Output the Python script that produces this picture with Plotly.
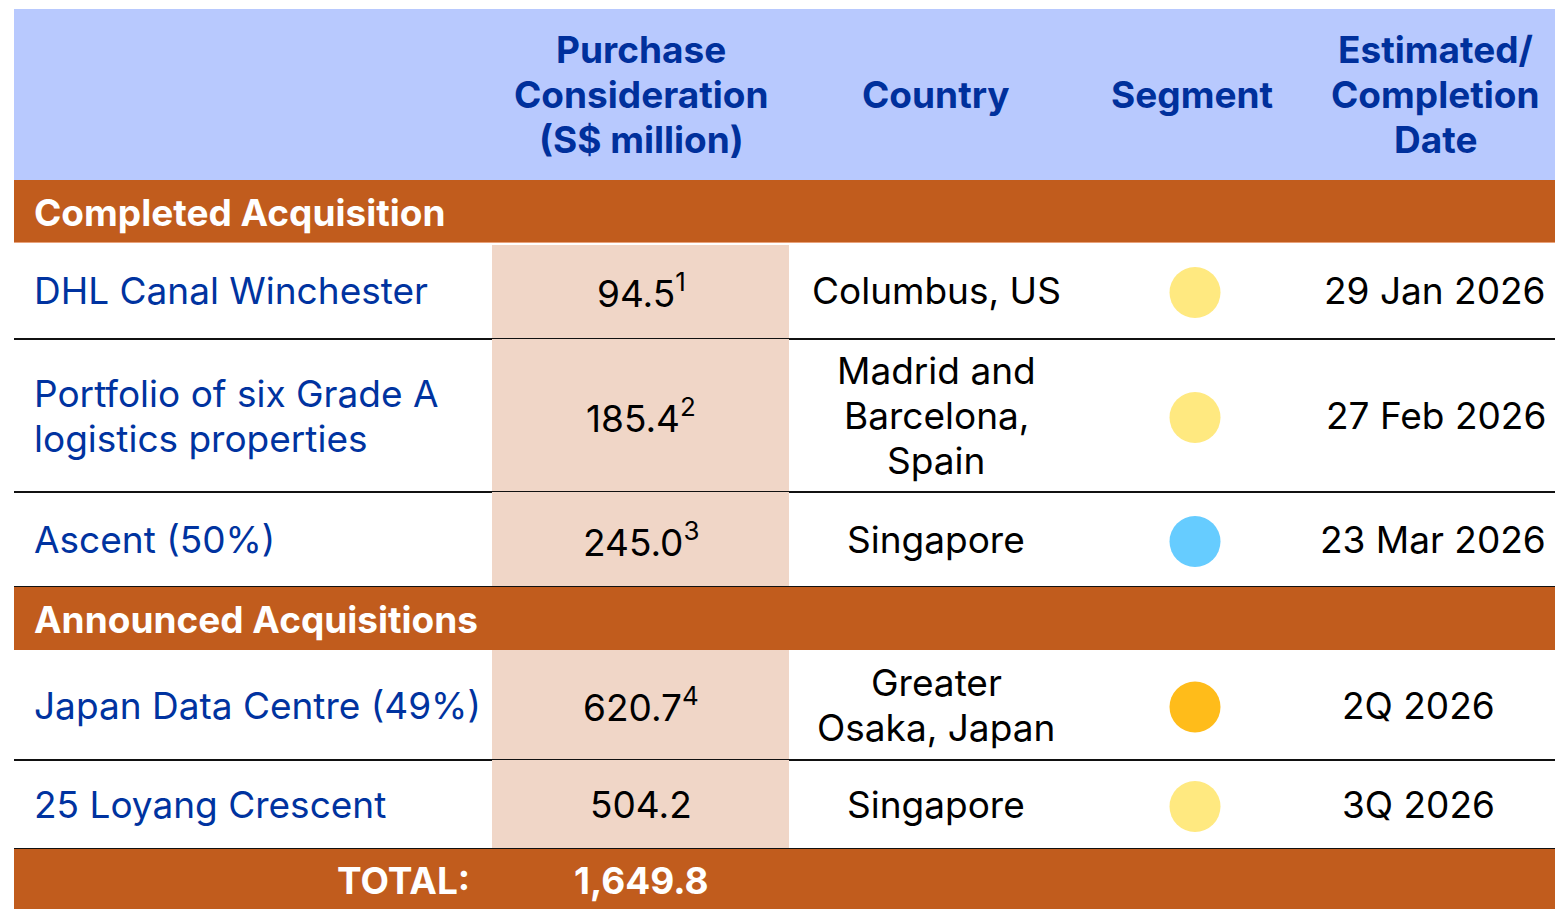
import plotly.graph_objects as go

# ---------------- data ----------------
headers = ["", "Purchase<br>Consideration<br>(S$ million)", "Country", "Segment",
           "Estimated/<br>Completion<br>Date"]
groups = ["Completed Acquisition", "Announced Acquisitions"]
group_index = [0, 0, 0, 1, 1]
names = ["DHL Canal Winchester", "Portfolio of six Grade A<br>logistics properties",
         "Ascent (50%)", "Japan Data Centre (49%)", "25 Loyang Crescent"]
values = [94.5, 185.4, 245.0, 620.7, 504.2]
footnotes = ["1", "2", "3", "4", ""]
countries = ["Columbus, US", "Madrid and<br>Barcelona,<br>Spain", "Singapore",
             "Greater<br>Osaka, Japan", "Singapore"]
segments = ["Logistics", "Logistics", "Business Space", "Data Centre", "Logistics"]
dates = ["29 Jan 2026", "27 Feb 2026", "23 Mar 2026", "2Q 2026", "3Q 2026"]
total_label = "TOTAL:"

# ---------------- styles / layout ----------------
FONT = "Inter"
FS = 37
LH = 45                     # line spacing of wrapped text
W, H = 1555, 909
LEFT, RIGHT = 14, 1555
TOP = 9
HEADER_BG = "#B8C9FE"
HEADER_FG = "#00309C"
BAND = "#C15C1D"
PEACH = "#F0D6C7"
NAME_FG = "#0033A0"
seg_colors = {"Logistics": "#FFE980", "Business Space": "#66CCFF", "Data Centre": "#FFBC1A"}
date_align = ["right", "right", "right", "center", "center"]
header_h, band_h, total_h = 171, 62, 62
row_h = [97, 153, 95, 110, 89]
band_h2 = 63
col_x = {"name": 32, "value": 641, "country": 936, "segment": 1195,
         "date_c": 1418, "date_r": 1548, "head_date": 1435}
peach_x = (492, 789)
dot_dy = 2

fig = go.Figure()
shapes, ann = [], []


def rect(x0, y0, x1, y1, color):
    shapes.append(dict(type="rect", xref="x", yref="y", x0=x0, x1=x1, y0=y0, y1=y1,
                       fillcolor=color, line=dict(width=0), layer="below"))


def hline(y, color="#111111", w=2):
    shapes.append(dict(type="line", xref="x", yref="y", x0=LEFT, x1=RIGHT, y0=y, y1=y,
                       line=dict(color=color, width=w), layer="below"))


def text(x, y, s, color="black", anchor="center", bold=False, size=FS):
    lines = s.split("<br>")
    n = len(lines)
    for k, line in enumerate(lines):
        ann.append(dict(x=x, y=y + (k - (n - 1) / 2) * LH, xref="x", yref="y", text=line,
                        showarrow=False, xanchor=anchor, yanchor="middle", align=anchor,
                        font=dict(family=FONT, size=size, color=color,
                                  weight=700 if bold else 400)))


# header
y = TOP
rect(LEFT, y, RIGHT, y + header_h, HEADER_BG)
hc = y + header_h / 2
text(col_x["value"], hc, headers[1], HEADER_FG, bold=True)
text(col_x["country"], hc, headers[2], HEADER_FG, bold=True)
text(col_x["segment"] - 3, hc, headers[3], HEADER_FG, bold=True)
text(col_x["head_date"], hc, headers[4], HEADER_FG, bold=True)
y += header_h

row_centers = []
current_group = None
peach_top = y
for i in range(len(names)):
    if group_index[i] != current_group:
        current_group = group_index[i]
        bh = band_h if current_group == 0 else band_h2
        rect(LEFT, y, RIGHT, y + bh, BAND)
        text(col_x["name"], y + bh / 2 + 1, groups[current_group], "white",
             anchor="left", bold=True)
        if current_group == 0:
            hline(y + bh + 0.5, "#E9A27A", 1)
        y += bh
        peach_top = y + (3 if current_group == 0 else 0)
    h = row_h[i]
    first = i == 0 or group_index[i] != group_index[i - 1]
    rect(peach_x[0], peach_top if first else y, peach_x[1], y + h, PEACH)
    c = y + h / 2
    row_centers.append(c + dot_dy)
    text(col_x["name"], c, names[i], NAME_FG, anchor="left")
    v = "%.1f" % values[i]
    if footnotes[i]:
        v += "<sup>%s</sup>" % footnotes[i]
    text(col_x["value"], c, v)
    text(col_x["country"], c, countries[i])
    if date_align[i] == "right":
        text(col_x["date_r"], c, dates[i], anchor="right")
    else:
        text(col_x["date_c"], c, dates[i])
    y += h
    hline(y)

# total row
rect(LEFT, y, RIGHT, y + total_h, BAND)
tc = y + total_h / 2
text(472, tc, total_label, "white", anchor="right", bold=True)
text(col_x["value"], tc, "{:,.1f}".format(sum(values)), "white", bold=True)

# segment dots
fig.add_trace(go.Scatter(
    x=[col_x["segment"]] * len(segments), y=row_centers, mode="markers",
    marker=dict(size=51, color=[seg_colors[s] for s in segments], line=dict(width=0)),
    text=segments, hoverinfo="text", showlegend=False))

fig.update_layout(
    width=W, height=H,
    margin=dict(l=0, r=0, t=0, b=0),
    paper_bgcolor="white", plot_bgcolor="white",
    xaxis=dict(range=[0, W], visible=False, fixedrange=True),
    yaxis=dict(range=[H, 0], visible=False, fixedrange=True),
    shapes=shapes, annotations=ann,
)
fig.write_html("out.html", config={"displayModeBar": False},
               post_script="document.body.style.margin='0';document.body.style.overflow='hidden';")
